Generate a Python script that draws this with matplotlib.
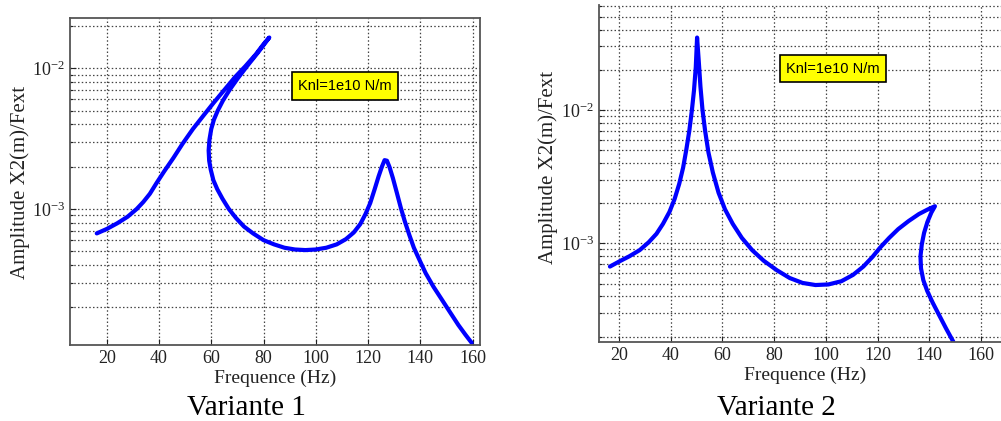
import matplotlib
matplotlib.use("Agg")
import matplotlib.pyplot as plt
from matplotlib.ticker import LogLocator, FixedLocator, NullFormatter, LogFormatterMathtext

plt.rcParams['mathtext.fontset'] = 'custom'
plt.rcParams['mathtext.rm'] = 'Liberation Serif'
plt.rcParams['mathtext.it'] = 'Liberation Serif:italic'
plt.rcParams['font.family'] = ['Liberation Serif', 'DejaVu Serif']

# ---- Data: Variante 1 (curve traced in order, folds back) ----
freq_v1 = [16.2, 20, 24, 28, 31.5, 34, 36.5, 39, 42, 45.5, 49, 53, 57, 61, 65, 69, 73, 77, 80, 82.2,
           78, 74, 70, 67, 64.5, 62.5, 61, 60, 59.3, 59.0, 59.2, 59.8, 60.8, 62.3, 64.3, 66.7, 69.5,
           72.5, 76, 80, 84, 88, 92, 96, 100, 104, 108, 111.5, 114.5, 117, 119, 120.8, 122.5, 124,
           125.3, 126.3, 127.2, 128.2, 129.5, 131, 132.5, 134, 135.8, 137.5, 139.5, 142, 145, 148,
           151.3, 154.5, 157.2, 159.6]
amp_v1 = [6.7e-4, 7.2e-4, 7.9e-4, 8.8e-4, 1.0e-3, 1.12e-3, 1.28e-3, 1.52e-3, 1.85e-3, 2.3e-3, 2.9e-3,
          3.7e-3, 4.6e-3, 5.7e-3, 7.0e-3, 8.6e-3, 1.03e-2, 1.25e-2, 1.48e-2, 1.65e-2,
          1.3e-2, 1.05e-2, 8.4e-3, 7.0e-3, 5.9e-3, 5.0e-3, 4.3e-3, 3.7e-3, 3.1e-3, 2.6e-3, 2.2e-3,
          1.9e-3, 1.6e-3, 1.38e-3, 1.18e-3, 1.0e-3, 8.6e-4,
          7.5e-4, 6.7e-4, 6.0e-4, 5.6e-4, 5.3e-4, 5.15e-4, 5.1e-4, 5.15e-4, 5.3e-4, 5.6e-4, 6.1e-4,
          6.8e-4, 7.8e-4, 9.2e-4, 1.1e-3, 1.38e-3, 1.7e-3,
          2.0e-3, 2.22e-3, 2.2e-3, 1.98e-3, 1.65e-3, 1.3e-3, 1.02e-3, 8.2e-4, 6.5e-4, 5.3e-4, 4.4e-4,
          3.5e-4, 2.8e-4, 2.3e-4,
          1.85e-4, 1.5e-4, 1.28e-4, 1.12e-4]

# ---- Data: Variante 2 ----
freq_v2 = [16.5, 20, 24, 28, 31.5, 34.5, 37, 39.5, 41.5, 43.3, 44.8, 46, 47.2, 48.2, 49.0, 49.7, 50.2,
           50.8, 51.5, 52.3, 53.3, 54.6, 56.3, 58.5, 61, 64, 67.5, 71.5, 76, 81, 86, 91, 96, 101, 106,
           110.5, 114.5, 118, 121, 124.5, 128, 132, 136, 139.5, 142.2,
           140.8, 139.3, 138, 137.1, 136.6, 136.8, 137.7, 139.2, 141.3, 143.8, 146.5, 149.3]
amp_v2 = [6.7e-4, 7.3e-4, 8.0e-4, 8.9e-4, 1.02e-3, 1.18e-3, 1.4e-3, 1.72e-3, 2.15e-3, 2.8e-3, 3.7e-3,
          5.0e-3, 7.0e-3, 1.0e-2, 1.4e-2, 2.1e-2, 3.5e-2,
          2.4e-2, 1.5e-2, 1.0e-2, 7.0e-3, 4.8e-3, 3.4e-3, 2.4e-3, 1.8e-3, 1.4e-3, 1.1e-3, 8.9e-4,
          7.4e-4, 6.3e-4, 5.5e-4, 5.05e-4, 4.87e-4, 4.92e-4, 5.2e-4,
          5.8e-4, 6.7e-4, 7.9e-4, 9.3e-4, 1.1e-3, 1.28e-3, 1.47e-3, 1.66e-3, 1.8e-3, 1.9e-3,
          1.7e-3, 1.45e-3, 1.2e-3, 9.8e-4, 8.0e-4, 6.5e-4, 5.3e-4, 4.4e-4, 3.6e-4, 2.9e-4, 2.3e-4,
          1.83e-4]

x_ticks = [20, 40, 60, 80, 100, 120, 140, 160]
x_label = "Frequence (Hz)"
y_label = "Amplitude X2(m)/Fext"
annot = "Knl=1e10 N/m"
titles = ["Variante 1", "Variante 2"]

W, H = 1001, 421
fig = plt.figure(figsize=(W / 100, H / 100), dpi=100)


def px_axes(l, t, r, b):
    return fig.add_axes([l / W, 1 - b / H, (r - l) / W, (b - t) / H])


def style(ax, xlim, ylim):
    ax.set_yscale('log')
    ax.set_xlim(*xlim)
    ax.set_ylim(*ylim)
    ax.xaxis.set_major_locator(FixedLocator(x_ticks))
    ax.yaxis.set_major_locator(LogLocator(base=10))
    ax.yaxis.set_minor_locator(LogLocator(base=10, subs=range(2, 10)))
    ax.yaxis.set_major_formatter(LogFormatterMathtext())
    ax.yaxis.set_minor_formatter(NullFormatter())
    ax.grid(True, which='major', axis='x', linestyle=(0, (1.2, 1.8)), color='#444444', linewidth=0.9)
    ax.grid(True, which='both', axis='y', linestyle=(0, (1.2, 1.8)), color='#444444', linewidth=0.9)
    ax.tick_params(which='both', direction='in', labelsize=13, colors='#222222', length=4, width=0.8)
    ax.tick_params(which='minor', length=2)
    for s in ax.spines.values():
        s.set_color('#555555')
        s.set_linewidth(1.3)
    ax.set_xlabel(x_label, fontsize=14, color='#222222', labelpad=2)
    ax.set_ylabel(y_label, fontsize=15, color='#222222')


def add_box(ax, l, t, r, b, cx, cy):
    ax.text((cx - l) / (r - l), 1 - (cy - t) / (b - t), annot, transform=ax.transAxes,
            ha='center', va='center', fontsize=10.5, family='Liberation Sans',
            bbox=dict(boxstyle='square,pad=0.45', facecolor='#ffff00', edgecolor='black', linewidth=1.2))


# Left panel
L1 = (70, 18, 480, 345)
ax1 = px_axes(*L1)
ax1.plot(freq_v1, amp_v1, color='#0000ff', linewidth=3.0, solid_capstyle='round', solid_joinstyle='round')
style(ax1, (5.96, 162.8), (1.08e-4, 2.27e-2))
ax1.yaxis.set_label_coords((30 - L1[0]) / (L1[2] - L1[0]), 1 - (182 - L1[1]) / (L1[3] - L1[1]))
add_box(ax1, *L1, 345, 86)

# Right panel (cropped at the top and right edges)
L2 = (598.7, 5, 1012, 341.7)
ax2 = px_axes(*L2)
ax2.plot(freq_v2, amp_v2, color='#0000ff', linewidth=3.0, solid_capstyle='round', solid_joinstyle='round')
style(ax2, (12.15, 172.0), (1.83e-4, 0.0614))
ax2.spines['top'].set_visible(False)
ax2.spines['right'].set_visible(False)
ax2.yaxis.set_label_coords((558 - L2[0]) / (L2[2] - L2[0]), 1 - (167 - L2[1]) / (L2[3] - L2[1]))
add_box(ax2, *L2, 833, 68.7)

fig.text(246.7 / W, 1 - 408 / H, titles[0], ha='center', va='center', fontsize=21, color='black')
fig.text(776.7 / W, 1 - 408 / H, titles[1], ha='center', va='center', fontsize=21, color='black')

fig.savefig("out.png", dpi=100)
